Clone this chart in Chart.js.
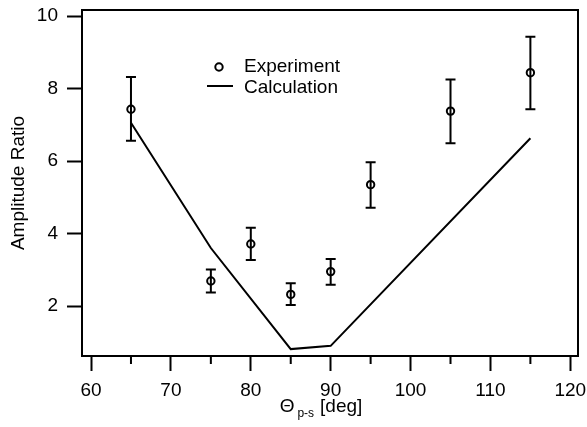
<!DOCTYPE html>
<html>
<head>
<meta charset="utf-8">
<script src="https://cdn.jsdelivr.net/npm/chart.js@4/dist/chart.umd.min.js"></script>
<style>
  html, body { margin: 0; padding: 0; background: #fff; }
  #wrap { width: 587px; height: 427px; }
</style>
</head>
<body>
<div id="wrap"><canvas id="ratioChart" width="587" height="427"></canvas></div>
<script>
// measured points
const angles = [65, 75, 80, 85, 90, 95, 105, 115];
const ratio = [7.43, 2.69, 3.71, 2.32, 2.95, 5.35, 7.38, 8.44];
const errHigh = [8.32, 3.01, 4.16, 2.63, 3.30, 5.97, 8.25, 9.43];
const errLow = [6.56, 2.37, 3.27, 2.03, 2.59, 4.71, 6.49, 7.43];

// calculated curve
const calcAngles = [65, 75, 85, 90, 115];
const calcRatio = [7.06, 3.60, 0.81, 0.90, 6.63];

// ticks
const xTicks = [60, 70, 80, 90, 100, 110, 120];
const xMinorTicks = [65, 75, 85, 95, 105, 115];
const yTicks = [2, 4, 6, 8, 10];

const FONT = '"Liberation Sans", Arial, Helvetica, sans-serif';
const SIZE = 19;

const extras = {
    id: 'extras',
    beforeDatasetsDraw(chart) {
        // error bars
        const ctx = chart.ctx;
        const x = chart.scales.x, y = chart.scales.y;
        ctx.save();
        ctx.strokeStyle = '#000';
        ctx.lineWidth = 2;
        angles.forEach((a, i) => {
            const px = x.getPixelForValue(a);
            const top = y.getPixelForValue(errHigh[i]);
            const bot = y.getPixelForValue(errLow[i]);
            ctx.beginPath();
            ctx.moveTo(px, top); ctx.lineTo(px, bot);
            ctx.moveTo(px - 5, top); ctx.lineTo(px + 5, top);
            ctx.moveTo(px - 5, bot); ctx.lineTo(px + 5, bot);
            ctx.stroke();
        });
        ctx.restore();
    },
    afterDraw(chart) {
        const ctx = chart.ctx;
        const area = chart.chartArea;
        const x = chart.scales.x;
        ctx.save();
        ctx.strokeStyle = '#000';
        ctx.lineWidth = 2;
        // top and right frame
        ctx.beginPath();
        ctx.moveTo(area.left, area.top);
        ctx.lineTo(area.right, area.top);
        ctx.lineTo(area.right, area.bottom);
        ctx.stroke();
        // minor ticks on x
        ctx.beginPath();
        xMinorTicks.forEach(v => {
            const px = x.getPixelForValue(v);
            ctx.moveTo(px, area.bottom);
            ctx.lineTo(px, area.bottom + 8);
        });
        ctx.stroke();

        // legend
        ctx.fillStyle = '#000';
        ctx.font = SIZE + 'px ' + FONT;
        ctx.textBaseline = 'middle';
        ctx.textAlign = 'left';
        ctx.beginPath();
        ctx.arc(219, 67, 3.7, 0, Math.PI * 2);
        ctx.stroke();
        ctx.fillText('Experiment', 244, 67);
        ctx.beginPath();
        ctx.moveTo(207, 86); ctx.lineTo(233, 86);
        ctx.stroke();
        ctx.fillText('Calculation', 244, 88);

        // y title
        ctx.save();
        ctx.translate(24, (area.top + area.bottom) / 2);
        ctx.rotate(-Math.PI / 2);
        ctx.textAlign = 'center';
        ctx.textBaseline = 'alphabetic';
        ctx.fillText('Amplitude Ratio', 0, 0);
        ctx.restore();

        // x title with subscript
        const base = 412;
        const partA = '\u0398';
        const partSub = 'p-s';
        const partB = '[deg]';
        ctx.textBaseline = 'alphabetic';
        ctx.font = SIZE + 'px ' + FONT;
        const wA = ctx.measureText(partA).width;
        const wB = ctx.measureText(partB).width;
        ctx.font = '12px ' + FONT;
        const wS = ctx.measureText(partSub).width;
        const total = wA + 3 + wS + 6 + wB;
        let cx = 321 - total / 2;
        ctx.font = SIZE + 'px ' + FONT;
        ctx.fillText(partA, cx, base);
        cx += wA + 3;
        ctx.font = '12px ' + FONT;
        ctx.fillText(partSub, cx, base + 5);
        cx += wS + 6;
        ctx.font = SIZE + 'px ' + FONT;
        ctx.fillText(partB, cx, base);
        ctx.restore();
    }
};

function criarGrafico() {
    const ctx = document.getElementById('ratioChart').getContext('2d');
    new Chart(ctx, {
        type: 'scatter',
        data: {
            datasets: [{
                label: 'Experiment',
                data: angles.map((a, i) => ({ x: a, y: ratio[i] })),
                showLine: false,
                pointStyle: 'circle',
                pointRadius: 3.7,
                pointBorderWidth: 2,
                pointBorderColor: '#000',
                pointBackgroundColor: 'rgba(0,0,0,0)'
            },
            {
                label: 'Calculation',
                data: calcAngles.map((a, i) => ({ x: a, y: calcRatio[i] })),
                showLine: true,
                borderColor: '#000',
                borderWidth: 2,
                pointRadius: 0,
                fill: false
            }]
        },
        options: {
            responsive: false,
            maintainAspectRatio: false,
            animation: false,
            layout: {
                padding: { left: 0, top: 10, right: 9, bottom: 0 }
            },
            plugins: {
                legend: { display: false },
                tooltip: { enabled: false }
            },
            scales: {
                x: {
                    type: 'linear',
                    min: 58.87,
                    max: 120.96,
                    afterBuildTicks: s => { s.ticks = xTicks.map(v => ({ value: v })); },
                    afterFit: s => { s.height = 71; s.paddingLeft = 0; s.paddingRight = 0; },
                    grid: {
                        drawOnChartArea: false,
                        tickLength: 15,
                        tickWidth: 2,
                        tickColor: '#000'
                    },
                    border: { color: '#000', width: 2 },
                    ticks: {
                        color: '#000',
                        padding: 8,
                        maxRotation: 0,
                        font: { size: SIZE, family: FONT }
                    }
                },
                y: {
                    min: 0.62,
                    max: 10.17,
                    afterBuildTicks: s => { s.ticks = yTicks.map(v => ({ value: v })); },
                    afterFit: s => { s.width = 82; s.paddingTop = 0; s.paddingBottom = 0; },
                    grid: {
                        drawOnChartArea: false,
                        tickLength: 15,
                        tickWidth: 2,
                        tickColor: '#000'
                    },
                    border: { color: '#000', width: 2 },
                    ticks: {
                        color: '#000',
                        padding: 9,
                        font: { size: SIZE, family: FONT }
                    }
                }
            }
        },
        plugins: [extras]
    });
}

document.addEventListener('DOMContentLoaded', criarGrafico);
</script>
</body>
</html>
